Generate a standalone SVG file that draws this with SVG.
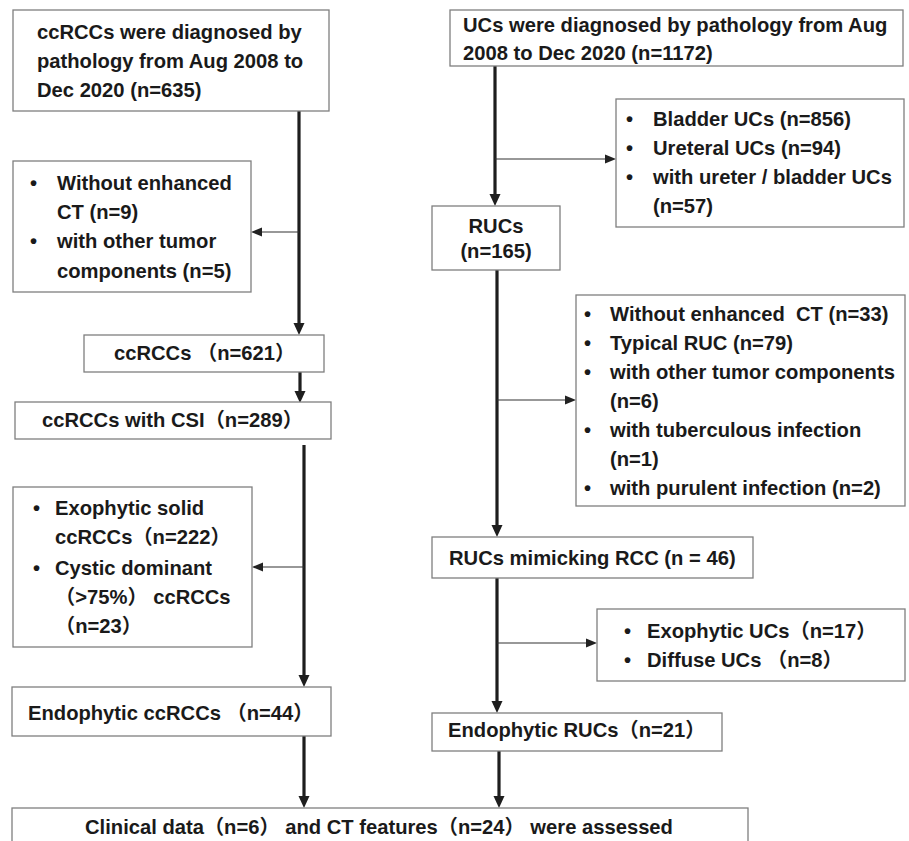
<svg xmlns="http://www.w3.org/2000/svg" width="909" height="841" viewBox="0 0 909 841">
<defs>
<style>
.box{fill:#fff;stroke:#7f7f7f;stroke-width:1.3}
.t{font-family:"Liberation Sans","Noto Sans CJK SC",Arial,sans-serif;font-weight:bold;font-size:20.2px;fill:#1a1a1a}
.thick{stroke:#1e1e1e;stroke-width:3.2;fill:none}
.thin{stroke:#333;stroke-width:1.2;fill:none}
</style>
<marker id="ah" markerUnits="userSpaceOnUse" markerWidth="12" markerHeight="12" refX="0" refY="6" orient="auto" viewBox="0 0 12 12">
<path d="M0,0.5 L12,6 L0,11.5 z" fill="#1e1e1e"/>
</marker>
<marker id="ahs" markerUnits="userSpaceOnUse" markerWidth="11" markerHeight="10" refX="0" refY="5" orient="auto" viewBox="0 0 11 10">
<path d="M0,0.5 L11,5 L0,9.5 z" fill="#222"/>
</marker>
</defs>
<rect width="909" height="841" fill="#fff"/>

<g id="connectors">
<line class="thick" x1="299" y1="111" x2="299" y2="323" marker-end="url(#ah)"/>
<line class="thin" x1="299" y1="232" x2="262" y2="232" marker-end="url(#ahs)"/>
<line class="thick" x1="300" y1="372" x2="300" y2="391" marker-end="url(#ah)"/>
<line class="thick" x1="304" y1="445" x2="304" y2="675" marker-end="url(#ah)"/>
<line class="thin" x1="304" y1="567" x2="263" y2="567" marker-end="url(#ahs)"/>
<line class="thick" x1="304" y1="736" x2="304" y2="796" marker-end="url(#ah)"/>
<line class="thick" x1="495" y1="66" x2="495" y2="194" marker-end="url(#ah)"/>
<line class="thin" x1="495" y1="159" x2="605" y2="159" marker-end="url(#ahs)"/>
<line class="thick" x1="497" y1="270" x2="497" y2="525" marker-end="url(#ah)"/>
<line class="thin" x1="497" y1="400" x2="565" y2="400" marker-end="url(#ahs)"/>
<line class="thick" x1="497" y1="578" x2="497" y2="701" marker-end="url(#ah)"/>
<line class="thin" x1="497" y1="643" x2="586" y2="643" marker-end="url(#ahs)"/>
<line class="thick" x1="499" y1="751" x2="499" y2="796" marker-end="url(#ah)"/>
</g>

<g id="ccrcc-diagnosed">
<rect class="box" x="13" y="10" width="316" height="101"/>
<text class="t" x="37" y="39">ccRCCs were diagnosed by</text>
<text class="t" x="37" y="68">pathology from Aug 2008 to</text>
<text class="t" x="37" y="97">Dec 2020 (n=635)</text>
</g>

<g id="ccrcc-excluded-1">
<rect class="box" x="13" y="161" width="238" height="131"/>
<text class="t" x="30" y="190">•</text>
<text class="t" x="57" y="190">Without enhanced</text>
<text class="t" x="57" y="219">CT (n=9)</text>
<text class="t" x="30" y="248">•</text>
<text class="t" x="57" y="248">with other tumor</text>
<text class="t" x="57" y="278">components (n=5)</text>
</g>

<g id="uc-diagnosed">
<rect class="box" x="450" y="10" width="453" height="56"/>
<text class="t" x="463" y="32">UCs were diagnosed by pathology from Aug</text>
<text class="t" x="463" y="60">2008 to Dec 2020 (n=1172)</text>
</g>

<g id="uc-excluded-1">
<rect class="box" x="616" y="99" width="288" height="128"/>
<text class="t" x="626" y="126">•</text>
<text class="t" x="653" y="126">Bladder UCs (n=856)</text>
<text class="t" x="626" y="155">•</text>
<text class="t" x="653" y="155">Ureteral UCs (n=94)</text>
<text class="t" x="626" y="184">•</text>
<text class="t" x="653" y="184">with ureter / bladder UCs</text>
<text class="t" x="653" y="213">(n=57)</text>
</g>

<g id="rucs">
<rect class="box" x="432" y="206" width="128" height="64"/>
<text class="t" x="496" y="233" text-anchor="middle">RUCs</text>
<text class="t" x="496" y="258" text-anchor="middle">(n=165)</text>
</g>

<g id="ruc-excluded-1">
<rect class="box" x="576" y="295" width="329" height="211"/>
<text class="t" x="584" y="321">•</text>
<text class="t" x="610" y="321">Without enhanced&#160; CT (n=33)</text>
<text class="t" x="584" y="350">•</text>
<text class="t" x="610" y="350">Typical RUC (n=79)</text>
<text class="t" x="584" y="379">•</text>
<text class="t" x="610" y="379">with other tumor components</text>
<text class="t" x="610" y="408">(n=6)</text>
<text class="t" x="584" y="437">•</text>
<text class="t" x="610" y="437">with tuberculous infection</text>
<text class="t" x="610" y="466">(n=1)</text>
<text class="t" x="584" y="495">•</text>
<text class="t" x="610" y="495">with purulent infection (n=2)</text>
</g>

<g id="ccrccs-621">
<rect class="box" x="84" y="335" width="240" height="37"/>
<text class="t" x="114" y="360">ccRCCs （n=621）</text>
</g>

<g id="ccrccs-csi">
<rect class="box" x="15" y="402" width="316" height="37"/>
<text class="t" x="42" y="427">ccRCCs with CSI（n=289）</text>
</g>

<g id="ccrcc-excluded-2">
<rect class="box" x="13" y="487" width="239" height="160"/>
<text class="t" x="33" y="515">•</text>
<text class="t" x="55" y="515">Exophytic solid</text>
<text class="t" x="55" y="544">ccRCCs（n=222）</text>
<text class="t" x="33" y="575">•</text>
<text class="t" x="55" y="575">Cystic dominant</text>
<text class="t" x="55" y="604">（&gt;75%） ccRCCs</text>
<text class="t" x="55" y="633">（n=23）</text>
</g>

<g id="ruc-mimicking">
<rect class="box" x="432" y="537" width="321" height="41"/>
<text class="t" x="449" y="565">RUCs mimicking RCC (n = 46)</text>
</g>

<g id="ruc-excluded-2">
<rect class="box" x="597" y="609" width="308" height="72"/>
<text class="t" x="624" y="638">•</text>
<text class="t" x="647" y="638">Exophytic UCs（n=17）</text>
<text class="t" x="624" y="667">•</text>
<text class="t" x="647" y="667">Diffuse UCs （n=8）</text>
</g>

<g id="endophytic-ccrcc">
<rect class="box" x="12" y="687" width="319" height="49"/>
<text class="t" x="28" y="720">Endophytic ccRCCs （n=44）</text>
</g>

<g id="endophytic-ruc">
<rect class="box" x="432" y="713" width="290" height="38"/>
<text class="t" x="448" y="737">Endophytic RUCs（n=21）</text>
</g>

<g id="assessed">
<rect class="box" x="12" y="808" width="736" height="50"/>
<text class="t" x="85" y="834">Clinical data（n=6） and CT features（n=24） were assessed</text>
</g>
</svg>
